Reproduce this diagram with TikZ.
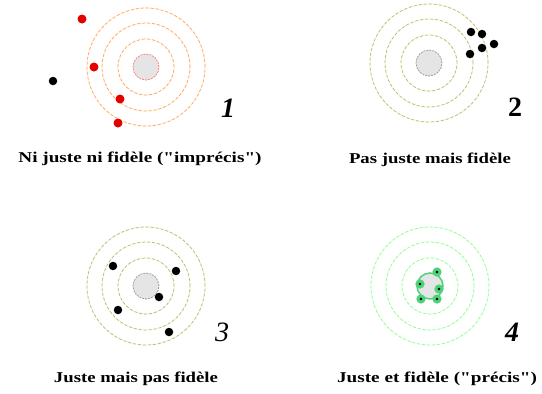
\documentclass[tikz,border=0pt]{standalone}
\usepackage{fontspec}
\setmainfont{Liberation Serif}[Ligatures=TeXOff]
\usetikzlibrary{calc}

\begin{document}
\begin{tikzpicture}[x=1pt,y=1pt]
        \tikzstyle{fond} = [draw=yellow!22, line width=1.3pt]
        \tikzstyle{anneau} = [line width=0.7pt, dash pattern=on 3pt off 2pt]
        \tikzstyle{disque} = [fill=gray!20, line width=0.8pt, dash pattern=on 2pt off 1pt]
        \tikzstyle{impact} = [circle, fill=black, inner sep=0pt, minimum size=8.5pt]
        \tikzstyle{impact_rouge} = [circle, fill=red!90!black, inner sep=0pt, minimum size=9pt]
        \tikzstyle{impact_vert} = [circle, fill=black, draw=green!50!teal!70, line width=3pt, inner sep=0pt, minimum size=6pt]
        \tikzstyle{legende} = [font=\fontsize{15}{18}\selectfont\bfseries, inner sep=0pt]
        \tikzstyle{numero} = [font=\fontsize{28}{30}\selectfont, inner sep=0pt]
        \useasboundingbox (0,0) rectangle (542,-394);
        \coordinate (cible1) at (146,-67);
        \coordinate (cible2) at (429,-63);
        \coordinate (cible3) at (146,-286);
        \coordinate (cible4) at (430,-286);

        \foreach \r in {28,44,59} {
            \draw[fond] (cible1) circle (\r);
            \draw[anneau, draw=red!40] (cible1) circle (\r);
            \draw[fond] (cible2) circle (\r);
            \draw[anneau, draw=gray!60] (cible2) circle (\r);
            \draw[fond] (cible3) circle (\r);
            \draw[anneau, draw=gray!60] (cible3) circle (\r);
            \draw[fond, draw=green!6] (cible4) circle (\r);
            \draw[anneau, draw=green!45] (cible4) circle (\r);
        }
        \draw[disque, draw=red!50] (cible1) circle (13);
        \draw[disque, draw=gray!75] (cible2) circle (13);
        \draw[disque, draw=gray!75] (cible3) circle (13);
        \draw[disque, draw=green!50!teal!70, solid, line width=1.5pt] (cible4) circle (13);

        \node (t1a) [impact_rouge] at ($(cible1)+(-64,48)$) {};
        \node (t1b) [impact_rouge] at ($(cible1)+(-52,0)$) {};
        \node (t1c) [impact_rouge] at ($(cible1)+(-26,-32)$) {};
        \node (t1d) [impact_rouge] at ($(cible1)+(-28,-56)$) {};
        \node (t1e) [impact] at ($(cible1)+(-93,-14)$) {};

        \node (t2a) [impact] at ($(cible2)+(42,31)$) {};
        \node (t2b) [impact] at ($(cible2)+(53,29)$) {};
        \node (t2c) [impact] at ($(cible2)+(65,19)$) {};
        \node (t2d) [impact] at ($(cible2)+(53,15)$) {};
        \node (t2e) [impact] at ($(cible2)+(41,9)$) {};

        \node (t3a) [impact] at ($(cible3)+(-33,20)$) {};
        \node (t3b) [impact] at ($(cible3)+(30,15)$) {};
        \node (t3c) [impact] at ($(cible3)+(13,-11)$) {};
        \node (t3d) [impact] at ($(cible3)+(-28,-24)$) {};
        \node (t3e) [impact] at ($(cible3)+(23,-46)$) {};

        \node (t4a) [impact_vert] at ($(cible4)+(7,14)$) {};
        \node (t4b) [impact_vert] at ($(cible4)+(-10,2)$) {};
        \node (t4c) [impact_vert] at ($(cible4)+(9,-3)$) {};
        \node (t4d) [impact_vert] at ($(cible4)+(-9,-13)$) {};
        \node (t4e) [impact_vert] at ($(cible4)+(7,-13)$) {};

        \node (num1) [numero] at (228,-108) {\textbf{\textit{1}}};
        \node (num2) [numero] at (515,-107) {\textbf{2}};
        \node (num3) [numero] at (222,-332) {\textit{3}};
        \node (num4) [numero] at (512,-332) {\textbf{\textit{4}}};

        \node (leg1) [legende] at (140,-159) {\scalebox{1.28}[1]{Ni juste ni fidèle ("imprécis")}};
        \node (leg2) [legende] at (430,-160) {\scalebox{1.25}[1]{Pas juste mais fidèle}};
        \node (leg3) [legende] at (136,-379) {\scalebox{1.25}[1]{Juste mais pas fidèle}};
        \node (leg4) [legende] at (437,-379) {\scalebox{1.28}[1]{Juste et fidèle ("précis")}};
    \end{tikzpicture}
\end{document}
